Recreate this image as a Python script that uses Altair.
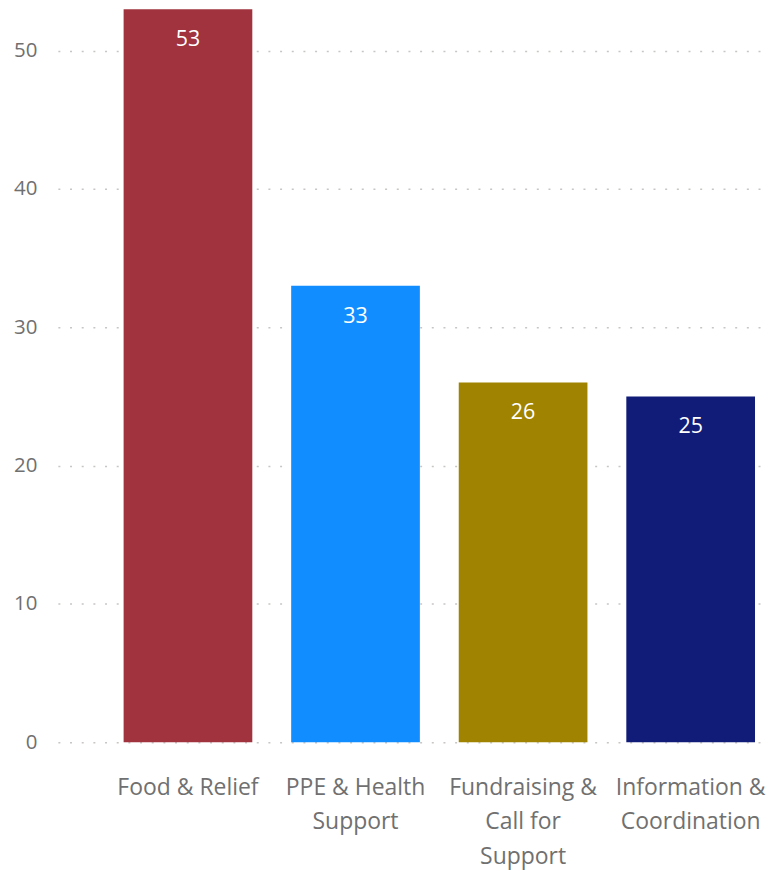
import altair as alt
import pandas as pd

categories = ["Food & Relief", "PPE & Health Support", "Fundraising & Call for Support", "Information & Coordination"]
label_lines = [["Food & Relief"], ["PPE & Health", "Support"], ["Fundraising &", "Call for", "Support"], ["Information &", "Coordination"]]
values = [53, 33, 26, 25]
colors = ["#A0333D", "#118DFF", "#A08300", "#111C78"]

df = pd.DataFrame({"category": categories, "value": values})

label_map = "{" + ",".join(
    '"%s": [%s]' % (c, ",".join('"%s"' % l for l in lines)) for c, lines in zip(categories, label_lines)
) + "}"

FONT = "Open Sans"

x = alt.X(
    "category:N",
    sort=categories,
    title=None,
    scale=alt.Scale(paddingInner=0.232, paddingOuter=0.226, align=0.868),
    axis=alt.Axis(
        labelAngle=0,
        labelExpr=label_map + "[datum.value]",
        labelFont=FONT,
        labelFontSize=23,
        labelColor="#707070",
        labelLineHeight=35,
        labelPadding=34,
        labelBaseline="top",
        ticks=False,
        domain=False,
        grid=False,
    ),
)

y = alt.Y(
    "value:Q",
    title=None,
    scale=alt.Scale(domain=[0, 53], nice=False),
    axis=alt.Axis(
        values=[0, 10, 20, 30, 40, 50],
        labelFont=FONT,
        labelFontSize=20.5,
        labelColor="#707070",
        labelPadding=21,
        ticks=False,
        domain=False,
        grid=True,
        gridColor="#C8C6C4",
        gridDash=[2, 9.7],
        gridWidth=1.5,
    ),
)

bars = alt.Chart(df).mark_bar().encode(
    x=x,
    y=y,
    color=alt.Color("category:N", scale=alt.Scale(domain=categories, range=colors), legend=None),
)

text = alt.Chart(df).mark_text(
    baseline="middle", dy=31, color="white", font=FONT, fontSize=21.5
).encode(
    x=alt.X("category:N", sort=categories),
    y=alt.Y("value:Q"),
    text=alt.Text("value:Q"),
)

chart = (
    alt.layer(bars, text)
    .properties(width=709, height=735, padding={"top": 0, "left": 5, "right": 0, "bottom": 0})
    .configure_view(stroke=None)
)

chart.save("out.html", embed_options={"renderer": "svg", "actions": False})
